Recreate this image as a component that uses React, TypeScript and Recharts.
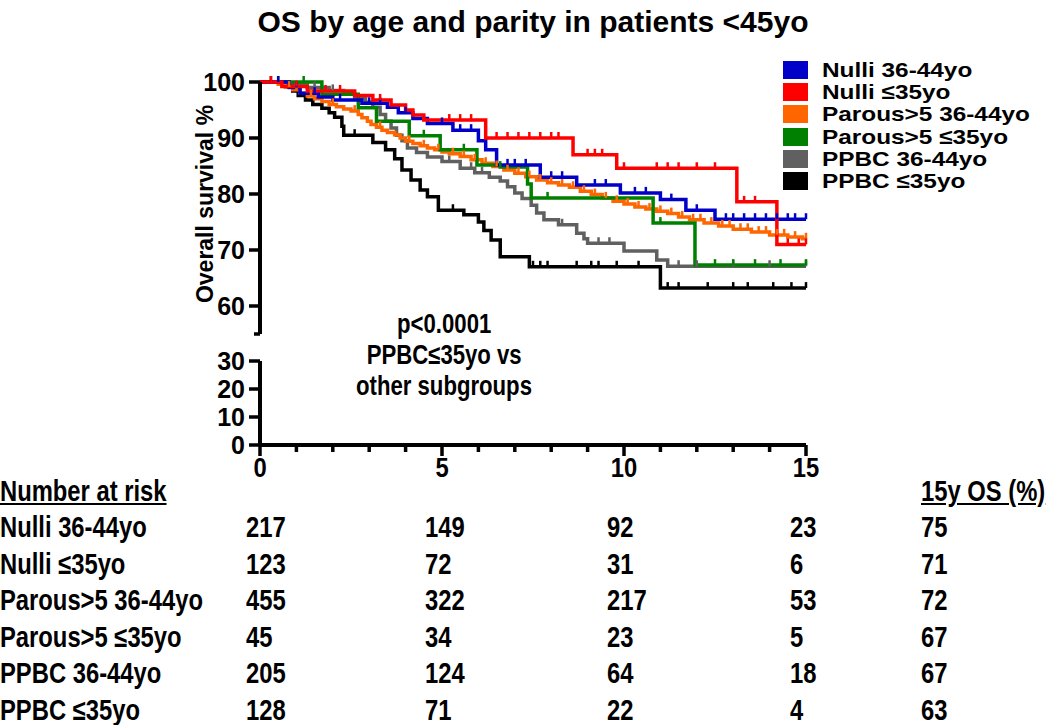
import { LineChart, Line, XAxis, YAxis } from 'recharts'

// Kaplan-Meier steps: [years, survival %]
const nulliOldSteps = [
  [0, 100], [0.8, 99], [1.1, 98], [1.6, 97.3], [2.0, 96.8], [2.8, 96.2], [3.5, 95.5], [3.8, 94.5],
  [4.2, 93.5], [4.6, 92.6], [5.3, 91.4], [6.0, 89.5], [6.2, 87.9], [6.5, 85.2], [7.7, 83], [8.7, 81.6],
  [9.9, 80.2], [11.0, 79], [11.7, 77.1], [12.5, 75.5],
]
const nulliYoungSteps = [
  [0, 100], [0.6, 99.2], [1.3, 98.4], [2.6, 97.6], [3.1, 96.8], [3.6, 95.9], [4.0, 95], [4.2, 94.1],
  [4.5, 93.2], [6.2, 90], [8.6, 87], [9.8, 84.6], [13.1, 78.6], [14.2, 71],
]
const parousOldSteps = [
  [0, 100], [0.5, 99.6], [0.7, 99.1], [0.9, 98.6], [1.1, 98], [1.3, 97.5], [1.5, 97], [1.7, 96.5],
  [1.9, 96], [2.1, 95.6], [2.3, 95.2], [2.5, 94.8], [2.7, 94.2], [2.8, 93.6], [2.95, 93], [3.05, 92.4],
  [3.2, 91.9], [3.35, 91.4], [3.5, 91], [3.7, 90.6], [3.85, 90], [4.0, 89.4], [4.2, 89], [4.4, 88.6],
  [4.6, 88.2], [4.8, 87.9], [5.0, 87.5], [5.2, 87.2], [5.5, 86.7], [5.8, 86.1], [6.1, 85.5], [6.4, 84.9],
  [6.7, 84.3], [7.0, 83.7], [7.3, 83.1], [7.6, 82.5], [7.9, 82], [8.2, 81.6], [8.5, 81.2], [8.8, 80.5],
  [9.1, 79.9], [9.4, 79.3], [9.7, 78.7], [10.0, 78.2], [10.3, 77.7], [10.6, 77.3], [10.9, 76.9],
  [11.2, 76.5], [11.5, 75.9], [11.8, 75.4], [12.2, 74.8], [12.6, 74.3], [13.0, 73.7], [13.5, 73.2],
  [14.0, 72.7], [14.5, 72.3], [14.9, 72],
]
const parousYoungSteps = [
  [0, 100], [1.7, 97.8], [2.7, 95.4], [3.2, 93], [4.1, 90.4], [4.95, 87.9], [5.96, 85.2], [6.6, 84.8],
  [7.35, 81.8], [7.45, 79.3], [10.8, 74.8], [11.95, 67.3],
]
const ppbcOldSteps = [
  [0, 100], [0.8, 99.5], [1.3, 99], [1.9, 98.5], [2.3, 98], [2.6, 97.2], [2.9, 96.4], [3.1, 95.5],
  [3.3, 94.2], [3.45, 93], [3.6, 91.8], [3.75, 90.5], [3.9, 89.5], [4.05, 88.2], [4.3, 87.4], [4.6, 86.6],
  [5.0, 85.8], [5.5, 84.6], [5.9, 83.8], [6.3, 83], [6.6, 82.3], [6.8, 81.3], [7.0, 80.2], [7.2, 79.2],
  [7.45, 78], [7.6, 76.6], [7.8, 75.4], [8.2, 74.5], [8.7, 73], [8.9, 72], [9.0, 71.2], [10.0, 69.8],
  [10.9, 68.2], [11.2, 67.1],
]
const ppbcYoungSteps = [
  [0, 100], [0.7, 99.2], [0.9, 98.4], [1.05, 97.6], [1.25, 96.8], [1.45, 96], [1.7, 95.3], [1.9, 94.5],
  [2.05, 93.7], [2.25, 92.1], [2.3, 90.5], [3.1, 89.2], [3.45, 87.9], [3.7, 86.3], [3.9, 84.3], [4.15, 82.5],
  [4.4, 80.7], [4.6, 79.5], [4.9, 77.1], [5.6, 76.3], [6.0, 75], [6.15, 73.5], [6.35, 71.8], [6.6, 68.8],
  [7.4, 67], [11.0, 63.2],
]

// censored observations (tick marks), years
const nulliOldCens = [0.5, 1.0, 1.5, 2.2, 3.0, 3.3, 4.0, 5.0, 5.5, 5.8, 6.8, 7.0, 7.3, 8.0, 8.3, 9.2, 9.5, 10.3, 10.6, 11.3, 12.0, 12.8, 13.0, 13.3, 13.6, 13.9, 14.2, 14.5, 14.7, 15]
const nulliYoungCens = [0.3, 1.0, 1.8, 2.2, 3.3, 5.2, 5.5, 5.8, 6.5, 6.8, 7.1, 7.4, 7.7, 8.0, 8.2, 9.0, 9.2, 9.4, 10.0, 10.9, 11.2, 11.5, 12.0, 12.5, 13.3, 13.6, 14.5, 14.8, 15]
const parousOldCens = [0.8, 1.0, 1.4, 2.0, 2.6, 3.3, 4.1, 4.5, 4.9, 5.3, 5.6, 5.9, 6.2, 6.5, 6.8, 7.1, 7.4, 7.7, 8.0, 8.3, 8.6, 8.9, 9.2, 9.5, 9.8, 10.1, 10.4, 10.7, 11.0, 11.3, 11.6, 11.9, 12.1, 12.4, 12.7, 12.9, 13.2, 13.4, 13.7, 13.9, 14.2, 14.4, 14.7, 15]
const parousYoungCens = [0.5, 1.2, 4.5, 5.6, 6.6, 7.9, 11.0, 12.5, 13.0, 13.6, 14.3, 15]
const ppbcOldCens = [1.5, 2.0, 5.2, 5.8, 6.1, 8.3, 9.3, 9.6, 11.5, 12.0, 13.0, 14.0, 15]
const ppbcYoungCens = [0.3, 2.6, 5.3, 7.5, 7.7, 7.9, 8.7, 9.1, 9.3, 9.8, 10.4, 11.2, 11.5, 12.3, 13.0, 13.4, 14.1, 14.6, 15]

const groups = ['Nulli 36-44yo', 'Nulli ≤35yo', 'Parous>5 36-44yo', 'Parous>5 ≤35yo', 'PPBC 36-44yo', 'PPBC ≤35yo']
const colors = ['#0000C8', '#FF0000', '#FF6600', '#008000', '#606060', '#000000']
const riskYears = [0, 5, 10, 15]
const atRisk = [
  [217, 149, 92, 23],
  [123, 72, 31, 6],
  [455, 322, 217, 53],
  [45, 34, 23, 5],
  [205, 124, 64, 18],
  [128, 71, 22, 4],
]
const os15 = [75, 71, 72, 67, 67, 63]
const upperTicks = [55, 60, 70, 80, 90, 100]
const lowerTicks = [0, 10, 20, 30]
const xTicks = [0, 1, 2, 3, 4, 5, 6, 7, 8, 9, 10, 11, 12, 13, 14, 15]

type Pt = { t: number; s: number; c: boolean }

function buildSeries(steps: number[][], cens: number[]): Pt[] {
  const pts: Pt[] = steps.map(([t, s]) => ({ t, s, c: false }))
  cens.forEach((t) => {
    let s = steps[0][1]
    steps.forEach(([st, sv]) => { if (st <= t) s = sv })
    pts.push({ t, s, c: true })
  })
  return pts.sort((a, b) => a.t - b.t || (a.c ? 1 : 0) - (b.c ? 1 : 0))
}

const series = [
  buildSeries(nulliOldSteps, nulliOldCens),
  buildSeries(nulliYoungSteps, nulliYoungCens),
  buildSeries(parousOldSteps, parousOldCens),
  buildSeries(parousYoungSteps, parousYoungCens),
  buildSeries(ppbcOldSteps, ppbcOldCens),
  buildSeries(ppbcYoungSteps, ppbcYoungCens),
]
const drawOrder = [4, 5, 2, 3, 0, 1]

const FONT = '"Liberation Sans", Arial, sans-serif'

const censorDot = (color: string) => (props: any) => {
  const { cx, cy, payload, index } = props
  if (!payload || !payload.c) return <g key={index} />
  return <line key={index} x1={cx} y1={cy} x2={cx} y2={cy - 6} stroke={color} strokeWidth={2.5} />
}

const YTick = (props: any) => {
  const { x, y, payload } = props
  const end = payload.value === 55
  return (
    <g>
      <line x1={x - (end ? 6 : 11)} y1={y} x2={x} y2={y} stroke="#000" strokeWidth={3.5} />
      {!end && (
        <text x={x - 15} y={y + 9} textAnchor="end" fontFamily={FONT} fontWeight="bold" fontSize={25} fill="#000">
          {payload.value}
        </text>
      )}
    </g>
  )
}

const XTick = (props: any) => {
  const { x, y, payload } = props
  const major = payload.value % 5 === 0
  return (
    <g>
      <line x1={x} y1={y} x2={x} y2={y + (major ? 11 : 7)} stroke="#000" strokeWidth={3.5} />
      {major && (
        <text transform={`translate(${x} ${y + 32}) scale(0.85 1)`} textAnchor="middle" fontFamily={FONT}
          fontWeight="bold" fontSize={28} fill="#000">
          {payload.value}
        </text>
      )}
    </g>
  )
}

const abs = (left: number, top: number, extra: any = {}) => ({ position: 'absolute' as const, left, top, whiteSpace: 'nowrap' as const, ...extra })
const narrow = (origin = 'left') => ({ display: 'inline-block', transform: 'scaleX(0.82)', transformOrigin: origin })

const curves = () => drawOrder.map((i) => (
  <Line key={groups[i]} data={series[i]} dataKey="s" type="stepAfter" stroke={colors[i]}
    strokeWidth={3.5} dot={censorDot(colors[i])} activeDot={false} isAnimationActive={false} />
))

export default function App() {
  return (
    <div style={{ position: 'absolute', left: 0, top: 0, width: 1050, height: 725, background: '#fff', fontFamily: FONT, color: '#000' }}>
      <div style={abs(0, 5, { width: 1066, textAlign: 'center', fontSize: 30, fontWeight: 'bold' })}>
        OS by age and parity in patients &lt;45yo
      </div>

      <div style={abs(205, 204, { transform: 'translate(-50%, -50%) rotate(-90deg)', fontSize: 23, fontWeight: 'bold' })}>
        Overall survival %
      </div>

      <div style={abs(180, 52)}>
        <LineChart width={646} height={292} margin={{ top: 30, right: 20, bottom: 10, left: 0 }}>
          <XAxis type="number" dataKey="t" domain={[0, 15]} hide />
          <YAxis type="number" domain={[55, 100]} ticks={upperTicks} width={80} interval={0}
            axisLine={{ stroke: '#000', strokeWidth: 4 }} tickLine={false} tickSize={0} tickMargin={0} tick={<YTick />} />
          {curves()}
        </LineChart>
      </div>

      {/* lower panel of the broken axis: same curves, all above 30 so clipped away */}
      <div style={abs(180, 331)}>
        <LineChart width={646} height={154} margin={{ top: 30, right: 20, bottom: 0, left: 0 }}>
          <XAxis type="number" dataKey="t" domain={[0, 15]} ticks={xTicks} interval={0} height={40}
            axisLine={{ stroke: '#000', strokeWidth: 4 }} tickLine={false} tickSize={0} tickMargin={0} tick={<XTick />} />
          <YAxis type="number" domain={[0, 30]} allowDataOverflow ticks={lowerTicks} width={80} interval={0}
            axisLine={{ stroke: '#000', strokeWidth: 4 }} tickLine={false} tickSize={0} tickMargin={0} tick={<YTick />} />
          {curves()}
        </LineChart>
      </div>

      {groups.map((g, i) => (
        <div key={g} style={abs(783, 61 + i * 22.2, { display: 'flex', alignItems: 'center' })}>
          <div style={{ width: 25, height: 18, background: colors[i] }} />
          <span style={{ marginLeft: 14, fontSize: 21, fontWeight: 'bold', lineHeight: '18px', display: 'inline-block', transform: 'scaleX(1.16)', transformOrigin: 'left' }}>{g}</span>
        </div>
      ))}

      <div style={abs(444, 309, { transform: 'translateX(-50%)', textAlign: 'center', fontWeight: 'bold', fontSize: 27, lineHeight: '31px' })}>
        <div style={narrow('center')}>p&lt;0.0001</div><br />
        <div style={narrow('center')}>PPBC≤35yo vs</div><br />
        <div style={narrow('center')}>other subgroups</div>
      </div>

      <div style={{ fontWeight: 'bold', fontSize: 29 }}>
        <div style={abs(0, 475, { textDecoration: 'underline', ...narrow() })}>Number at risk</div>
        <div style={abs(921, 475, { textDecoration: 'underline', ...narrow() })}>15y OS (%)</div>
        {groups.map((g, i) => (
          <div key={g}>
            <div style={abs(0, 511 + i * 36.5, narrow())}>{g}</div>
            {riskYears.map((y, j) => (
              <div key={y} style={abs([246, 425, 607, 790][j], 511 + i * 36.5, narrow())}>{atRisk[i][j]}</div>
            ))}
            <div style={abs(921, 511 + i * 36.5, narrow())}>{os15[i]}</div>
          </div>
        ))}
      </div>
    </div>
  )
}
